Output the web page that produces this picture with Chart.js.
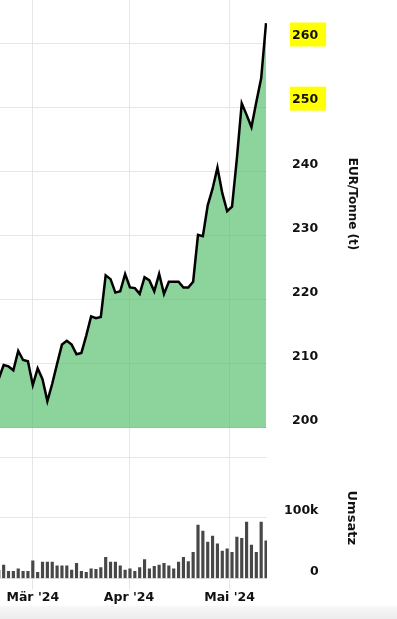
<!DOCTYPE html>
<html><head><meta charset="utf-8">
<script src="https://cdn.jsdelivr.net/npm/chart.js@4.4.1/dist/chart.umd.min.js"></script>
<style>
html,body{margin:0;padding:0;background:#fff;overflow:hidden;width:397px;height:619px;position:relative}
#wrap{position:absolute;left:0;top:-49px;width:397px;height:668px}
#strip{position:absolute;left:0;top:606px;width:397px;height:13px;background:linear-gradient(#f8f8f8,#ececec)}
</style></head><body>
<div id="wrap"><canvas id="c" width="397" height="668"></canvas></div>
<div id="strip"></div>
<script>
// trading days shown (partly off the left edge)
const dates = [
  '2024-02-21','2024-02-22','2024-02-23','2024-02-26','2024-02-27','2024-02-28','2024-02-29',
  '2024-03-01','2024-03-04','2024-03-05','2024-03-06','2024-03-07','2024-03-08','2024-03-11','2024-03-12',
  '2024-03-13','2024-03-14','2024-03-15','2024-03-18','2024-03-19','2024-03-20','2024-03-21','2024-03-22',
  '2024-03-25','2024-03-26','2024-03-27','2024-03-28',
  '2024-04-02','2024-04-03','2024-04-04','2024-04-05','2024-04-08','2024-04-09','2024-04-10','2024-04-11',
  '2024-04-12','2024-04-15','2024-04-16','2024-04-17','2024-04-18','2024-04-19','2024-04-22','2024-04-23',
  '2024-04-24','2024-04-25','2024-04-26','2024-04-29','2024-04-30',
  '2024-05-02','2024-05-03','2024-05-06','2024-05-07','2024-05-08','2024-05-09','2024-05-10','2024-05-13'
];
// EUR/Tonne
const price = [
  207.7, 209.8, 209.6, 209.0, 212.0, 210.6, 210.4,
  206.7, 209.3, 207.6, 204.2, 206.9, 210.0, 213.0, 213.6,
  213.0, 211.5, 211.7, 214.4, 217.4, 217.1, 217.3, 223.8,
  223.2, 221.1, 221.3, 224.0,
  221.9, 221.8, 220.9, 223.5, 223.0, 221.3, 224.0, 220.9,
  222.8, 222.8, 222.8, 221.9, 221.9, 222.8, 230.1, 229.9,
  234.7, 237.3, 240.6, 236.6, 233.8,
  234.5, 242.0, 250.6, 248.8, 246.9, 250.8, 254.5, 263.1
];
// Umsatz
const volume = [
  14000, 22000, 12000, 12000, 16000, 12000, 12000,
  29000, 10000, 27000, 27000, 27000, 21000, 21000, 21000,
  14000, 25000, 12000, 10000, 16000, 15000, 18000, 35000,
  27000, 27000, 21000, 14000,
  16000, 12000, 18000, 31000, 16000, 20000, 22000, 25000,
  21000, 16000, 27000, 35000, 28000, 43000, 88000, 78000,
  60000, 70000, 57000, 45000, 49000,
  43000, 68000, 66000, 93000, 55000, 43000, 93000, 62000
];
const monthTickPos = [0, 19.8, 40.5];
const monthLabels = ["Mär '24", "Apr '24", "Mai '24"];
const priceTicks = [200, 210, 220, 230, 240, 250, 260];
const highlightTicks = [250, 260];
const volumeTicks = [0, 100000, 200000];
// figure spaces keep "0" right-aligned under "100k"
const volumeTickLabels = ['\u2007\u2007\u20070', '100k', ''];
const priceTitle = 'EUR/Tonne (t)';
const volumeTitle = 'Umsatz';

const firstMar = dates.indexOf('2024-03-01');
const pricePts = price.map((v, i) => ({x: i - firstMar, y: v}));
const volPts = volume.map((v, i) => ({x: i - firstMar, y: v}));

const FONT = '"DejaVu Sans", Verdana, sans-serif';
const TXT = '#111';
const GRID = '#e5e5ea';
const noPad = s => { s.paddingTop = 0; s.paddingBottom = 0; s.paddingLeft = 0; s.paddingRight = 0; };

new Chart(document.getElementById('c'), {
  type: 'line',
  data: {
    datasets: [
      {type: 'line', data: pricePts, xAxisID: 'x', yAxisID: 'y', borderColor: '#000', borderWidth: 2.5,
       pointRadius: 0, tension: 0, fill: {value: 200}, backgroundColor: 'rgba(80,190,105,0.66)', order: 1},
      {type: 'bar', data: volPts, xAxisID: 'x', yAxisID: 'yv', backgroundColor: '#474747',
       barThickness: 2.5, order: 2}
    ]
  },
  options: {
    responsive: false, animation: false, devicePixelRatio: 1,
    layout: {padding: 0},
    plugins: {legend: {display: false}, tooltip: {enabled: false}},
    scales: {
      y: {
        type: 'linear', position: 'right', stack: 's', stackWeight: 506,
        min: 195.48, max: 274.34,
        afterBuildTicks: s => { s.ticks = priceTicks.map(v => ({value: v})); },
        afterFit: s => { s.width = 130; noPad(s); },
        ticks: {
          callback: v => String(v), color: TXT, font: {family: FONT, weight: 'bold', size: 12.5},
          padding: 25, crossAlign: 'near', labelOffset: -7,
          showLabelBackdrop: ctx => highlightTicks.includes(ctx.tick && ctx.tick.value),
          backdropColor: '#ffff00', backdropPadding: {top: 6, bottom: 3, left: 2, right: 8}
        },
        grid: {color: GRID, drawTicks: false}, border: {display: false},
        title: {display: true, text: priceTitle, color: TXT, font: {family: FONT, weight: 'bold', size: 12},
                padding: {top: 38, bottom: 0}}
      },
      yv: {
        type: 'linear', position: 'right', stack: 's', stackWeight: 121.5,
        min: 0, max: 200000,
        afterBuildTicks: s => { s.ticks = volumeTicks.map(v => ({value: v})); },
        afterFit: s => { s.width = 130; noPad(s); },
        ticks: {
          callback: (v, i) => volumeTickLabels[i], color: TXT, font: {family: FONT, weight: 'bold', size: 12.5},
          padding: 17, crossAlign: 'near', labelOffset: -7
        },
        grid: {color: GRID, drawTicks: false}, border: {display: false},
        title: {display: true, text: volumeTitle, color: TXT, font: {family: FONT, weight: 'bold', size: 13},
                padding: {top: 38, bottom: 0}}
      },
      x: {
        type: 'linear', position: 'bottom', min: -6.75, max: 48.2, offset: false,
        afterBuildTicks: s => { s.ticks = monthTickPos.map(v => ({value: v})); },
        afterFit: s => { s.height = 40.5; noPad(s); },
        ticks: {
          callback: (v, i) => monthLabels[i], color: TXT, font: {family: FONT, weight: 'bold', size: 12.5},
          padding: 1, maxRotation: 0, autoSkip: false
        },
        grid: {color: GRID, tickLength: 11, drawTicks: true, offset: false}, border: {display: false}
      }
    }
  }
});
</script>
</body></html>
